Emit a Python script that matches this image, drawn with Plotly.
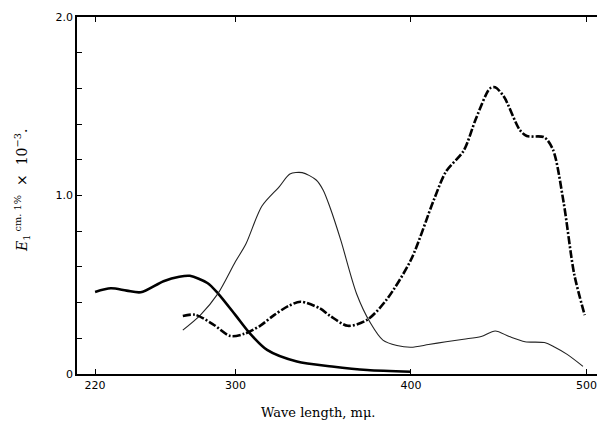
import plotly.graph_objects as go

# Curve A: heavy solid line
a_x = [220, 229, 238, 246, 259, 268, 274, 284, 290, 300, 308, 318, 335, 355, 375, 400]
a_y = [0.46, 0.48, 0.467, 0.458, 0.52, 0.545, 0.55, 0.51, 0.452, 0.33, 0.23, 0.135, 0.07, 0.042, 0.022, 0.013]

# Curve B: fine line
b_x = [270, 280, 290, 300, 306, 315, 325, 331, 338, 346, 350, 354, 360, 369, 377, 384, 392, 400, 410,
       420, 430, 440, 448, 456, 465, 476, 482, 489, 498]
b_y = [0.246, 0.33, 0.45, 0.63, 0.73, 0.94, 1.05, 1.12, 1.128, 1.087, 1.03, 0.93, 0.75, 0.45, 0.284, 0.19,
       0.16, 0.15, 0.165, 0.181, 0.195, 0.21, 0.241, 0.21, 0.181, 0.176, 0.15, 0.11, 0.043]

# Curve C: heavy dash-dot line
c_x = [270, 277, 287, 297, 305, 314, 322, 330, 337, 348, 354, 364, 375, 386, 400, 413, 420, 430, 437,
       445, 448, 453, 462, 466, 476, 481, 487, 493, 499]
c_y = [0.325, 0.332, 0.28, 0.213, 0.225, 0.27, 0.33, 0.38, 0.405, 0.368, 0.325, 0.27, 0.303, 0.415, 0.64,
       0.975, 1.135, 1.25, 1.43, 1.60, 1.606, 1.553, 1.367, 1.333, 1.326, 1.255, 0.96, 0.56, 0.33]

x_ticks = [220, 300, 400, 500]
x_ticktext = ["220", "300", "400", "500"]
y_ticks = [0, 1.0, 2.0]
y_ticktext = ["0", "1.0", "2.0"]
y_minor_step = 0.2

fig = go.Figure()
fig.add_trace(go.Scatter(x=a_x, y=a_y, mode="lines",
                         line=dict(color="black", width=2.6, shape="spline", smoothing=0.8)))
fig.add_trace(go.Scatter(x=b_x, y=b_y, mode="lines",
                         line=dict(color="#222", width=1.1, shape="spline", smoothing=0.8)))
fig.add_trace(go.Scatter(x=c_x, y=c_y, mode="lines",
                         line=dict(color="black", width=2.6, shape="spline", smoothing=0.8,
                                   dash="8px,2px,2px,2px")))

fig.update_layout(
    width=597, height=422,
    margin=dict(l=77, r=0, t=17, b=48),
    paper_bgcolor="white", plot_bgcolor="white",
    showlegend=False,
    font=dict(family="DejaVu Sans", color="black", size=11),
    xaxis=dict(range=[209.7, 506.0], tickvals=x_ticks, ticktext=x_ticktext,
               ticks="inside", ticklen=5, tickcolor="black", tickwidth=1,
               showline=True, linecolor="black", linewidth=2, mirror="ticks",
               showgrid=False, zeroline=False, tickfont=dict(size=11)),
    yaxis=dict(range=[0, 2.0], tickvals=y_ticks, ticktext=y_ticktext,
               ticks="inside", ticklen=5, tickcolor="black", tickwidth=1,
               minor=dict(dtick=y_minor_step, tick0=0, ticks="inside", ticklen=5,
                          tickcolor="black", tickwidth=1, showgrid=False),
               showline=True, linecolor="black", linewidth=1.5,
               showgrid=False, zeroline=False, tickfont=dict(size=11)),
    annotations=[
        dict(text="Wave length, mμ.", xref="paper", yref="paper", x=0.463, y=-0.109,
             xanchor="center", yanchor="middle", showarrow=False,
             font=dict(family="DejaVu Serif", size=13, color="black")),
        dict(text="<i>E</i><sub>1</sub><sup> cm. 1%</sup>  ×  10<sup>−3</sup>.",
             xref="paper", yref="paper", x=-0.106, y=0.515, textangle=-90,
             xanchor="center", yanchor="middle", showarrow=False,
             font=dict(family="DejaVu Serif", size=14, color="black")),
    ],
)

fig.write_html("out.html", config={"displayModeBar": False},
               post_script="document.body.style.margin='0';document.body.style.overflow='hidden';")
